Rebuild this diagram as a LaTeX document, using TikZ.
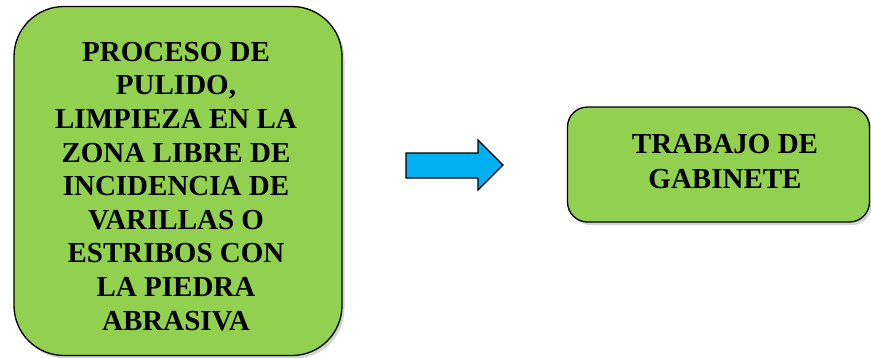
\documentclass[tikz,border=0pt]{standalone}
\usepackage{fontspec}
\setmainfont{Liberation Serif}[BoldFont={Liberation Serif Bold}]
\usetikzlibrary{shadows}
\definecolor{boxgreen}{HTML}{92D050}
\definecolor{arrowblue}{HTML}{00B0F0}
\tikzset{
  greenbox/.style={draw=black, line width=1.3pt, fill=boxgreen, rounded corners=#1,
    drop shadow={opacity=0.35, shadow xshift=2.5pt, shadow yshift=-3pt},
    inner sep=0pt},
  boxtext/.style={align=center, inner sep=0pt, font=\fontsize{29}{33.6}\selectfont\bfseries},
  bigarrow/.style={draw=black, line width=1.1pt, fill=arrowblue}
}
\begin{document}
\begin{tikzpicture}[x=1pt,y=-1pt]
\useasboundingbox (0,0) rectangle (871,357);
\node[greenbox=50pt, minimum width=328pt, minimum height=349pt] (a) at (178,181) {};
\node[boxtext, anchor=base] (at) at (176,330)
  {PROCESO DE\\PULIDO,\\LIMPIEZA EN LA\\ZONA LIBRE DE\\INCIDENCIA DE\\VARILLAS O\\ESTRIBOS CON\\LA PIEDRA\\ABRASIVA};
\node[greenbox=20pt, minimum width=302pt, minimum height=115pt] (b) at (718.5,164.5) {};
\node[boxtext, font=\fontsize{29}{35}\selectfont\bfseries, anchor=base] (bt) at (725,188) {TRABAJO DE\\GABINETE};
\draw[bigarrow] (406,153) -- (478,153) -- (478,140) -- (503,165) -- (478,190) -- (478,178) -- (406,178) -- cycle;
\end{tikzpicture}
\end{document}
